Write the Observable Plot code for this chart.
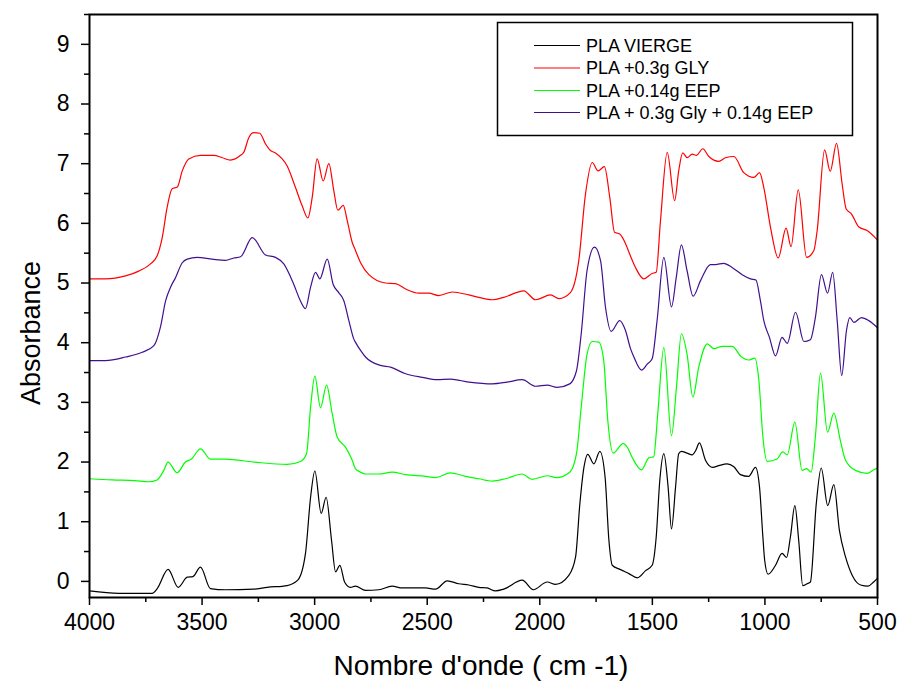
<!DOCTYPE html>
<html><head><meta charset="utf-8">
<script src="https://cdn.jsdelivr.net/npm/d3@7"></script>
<script src="https://cdn.jsdelivr.net/npm/@observablehq/plot@0.6"></script>
<style>body{margin:0;background:#fff} #chart svg{display:block}</style>
</head><body><div id="chart"></div>
<script>
const seriesNames = ["PLA VIERGE", "PLA +0.3g GLY", "PLA +0.14g EEP", "PLA + 0.3g Gly + 0.14g EEP"];
const seriesColors = ["#000000", "#ff0000", "#00ff00", "#40108f"];

const viergeWn = [4000,3870,3722,3699,3651,3606,3566,3541,3507,3463,3396,3270,3211,3122,3075,3041,3018,2999,2971,2949,2925,2907,2888,2867,2841,2819,2774,2715,2656,2611,2552,2508,2463,2411,2360,2315,2271,2234,2197,2160,2078,2029,1967,1930,1871,1841,1822,1804,1787,1760,1733,1710,1693,1678,1649,1625,1604,1567,1530,1501,1483,1467,1449,1430,1415,1397,1383,1371,1346,1323,1308,1291,1264,1232,1205,1168,1138,1109,1072,1042,1024,1009,1001,986,953,924,904,887,867,850,832,813,798,772,750,721,694,669,642,612,575,542,517,500];
const viergeAbs = [-0.16,-0.20,-0.20,-0.12,0.20,-0.10,0.07,0.08,0.24,-0.12,-0.14,-0.13,-0.10,-0.07,0.02,0.46,1.41,1.85,1.14,1.41,0.69,0.16,0.27,-0.01,-0.10,-0.08,-0.15,-0.14,-0.08,-0.11,-0.11,-0.11,-0.13,0.01,-0.04,-0.06,-0.10,-0.11,-0.16,-0.13,0.02,-0.14,-0.01,-0.05,0.10,0.41,1.30,1.91,2.13,1.97,2.18,1.75,0.69,0.27,0.21,0.17,0.13,0.06,0.18,0.27,0.74,1.69,2.14,1.58,0.88,1.58,2.14,2.18,2.15,2.12,2.19,2.32,2.03,1.91,1.94,1.97,1.92,1.79,1.76,1.91,1.58,0.74,0.35,0.12,0.27,0.47,0.40,0.74,1.27,0.69,-0.07,-0.04,-0.01,1.30,1.90,1.27,1.62,0.85,0.41,0.10,-0.06,-0.08,-0.01,0.05];

const glyWn = [4000,3929,3840,3781,3729,3699,3677,3655,3633,3610,3588,3559,3507,3448,3410,3374,3329,3315,3292,3270,3244,3218,3196,3174,3122,3085,3055,3030,3011,2989,2962,2937,2915,2897,2873,2855,2833,2819,2796,2759,2685,2641,2596,2537,2493,2449,2389,2315,2271,2210,2160,2071,2019,1952,1915,1864,1827,1797,1767,1741,1713,1689,1668,1645,1619,1597,1575,1538,1501,1483,1464,1434,1401,1383,1365,1345,1323,1304,1276,1249,1205,1175,1138,1094,1049,1024,1005,975,941,906,884,852,815,783,768,735,710,682,657,639,616,583,546,500];
const glyAbs = [5.07,5.07,5.12,5.20,5.32,5.46,5.76,6.27,6.58,6.61,6.88,7.08,7.14,7.14,7.10,7.06,7.14,7.19,7.44,7.52,7.51,7.33,7.22,7.18,6.96,6.60,6.29,6.09,6.43,7.08,6.71,7.00,6.55,6.22,6.30,6.04,5.68,5.55,5.34,5.14,5.00,4.99,4.90,4.83,4.83,4.79,4.85,4.80,4.76,4.72,4.76,4.87,4.72,4.80,4.74,4.84,5.37,6.49,7.02,6.88,6.95,6.43,5.85,5.82,5.66,5.45,5.26,5.07,5.16,5.18,6.04,7.19,6.38,6.88,7.18,7.10,7.16,7.14,7.25,7.12,7.04,7.10,7.12,6.85,6.77,6.85,6.60,5.93,5.42,5.92,5.61,6.56,5.43,5.54,5.88,7.23,6.87,7.34,6.66,6.24,6.16,5.94,5.88,5.72];

const eepWn = [4000,3900,3800,3737,3700,3670,3651,3611,3574,3547,3507,3463,3396,3270,3122,3063,3036,3018,2999,2974,2947,2922,2900,2863,2833,2819,2796,2774,2715,2656,2596,2508,2463,2397,2330,2271,2210,2152,2078,2034,1967,1926,1867,1837,1816,1790,1767,1738,1716,1698,1674,1630,1610,1590,1548,1516,1494,1476,1449,1415,1393,1371,1346,1320,1294,1256,1227,1190,1146,1104,1072,1045,1027,1009,990,946,921,901,867,835,815,795,776,753,722,694,665,642,598,546,516,500];
const eepAbs = [1.72,1.70,1.69,1.67,1.70,1.86,2.00,1.82,2.00,2.05,2.22,2.05,2.05,2.00,1.96,2.01,2.14,2.92,3.44,2.91,3.29,2.81,2.42,2.25,2.03,1.89,1.83,1.80,1.80,1.83,1.79,1.76,1.74,1.82,1.76,1.72,1.68,1.72,1.80,1.71,1.77,1.74,1.83,2.14,2.92,3.81,4.02,4.01,3.70,2.70,2.15,2.31,2.24,2.08,1.87,2.07,2.09,2.81,3.92,2.44,3.25,4.15,3.81,3.09,3.59,3.98,3.90,3.94,3.94,3.76,3.71,3.74,3.37,2.42,2.01,2.05,2.17,2.12,2.67,1.86,1.89,1.83,2.42,3.49,2.50,2.82,2.36,2.03,1.86,1.81,1.87,1.90];

const mixWn = [4000,3929,3840,3766,3714,3685,3662,3640,3618,3588,3566,3522,3455,3396,3359,3329,3277,3218,3174,3137,3093,3063,3041,3018,2996,2977,2944,2918,2893,2870,2848,2826,2819,2796,2774,2708,2663,2596,2522,2456,2397,2315,2210,2145,2078,2019,1967,1923,1867,1837,1816,1790,1757,1730,1708,1683,1645,1619,1597,1582,1548,1523,1501,1479,1449,1415,1394,1371,1346,1319,1286,1242,1220,1183,1146,1101,1064,1040,1020,1005,980,953,924,901,864,827,798,776,749,722,699,679,659,638,623,605,571,539,500];
const mixAbs = [3.70,3.70,3.76,3.84,3.95,4.26,4.70,4.93,5.09,5.34,5.40,5.43,5.40,5.38,5.42,5.44,5.76,5.47,5.43,5.32,4.98,4.70,4.57,4.93,5.18,5.07,5.40,4.98,4.84,4.70,4.37,4.06,4.01,3.87,3.76,3.62,3.59,3.48,3.42,3.38,3.39,3.34,3.31,3.34,3.38,3.27,3.29,3.25,3.31,3.53,4.15,5.21,5.60,5.37,4.59,4.19,4.37,4.20,3.90,3.76,3.54,3.64,3.73,4.37,5.43,4.60,5.09,5.64,5.21,4.78,5.04,5.31,5.31,5.33,5.26,5.14,5.07,5.05,4.70,4.37,4.09,3.78,4.09,3.99,4.51,4.02,4.05,4.42,5.14,4.83,5.18,4.37,3.45,4.20,4.42,4.34,4.42,4.37,4.25];

const xMajorTicks = [4000, 3500, 3000, 2500, 2000, 1500, 1000, 500];
const xMinorTicks = [3750, 3250, 2750, 2250, 1750, 1250, 750];
const yMajorTicks = [0, 1, 2, 3, 4, 5, 6, 7, 8, 9];
const yMinorTicks = [0.5, 1.5, 2.5, 3.5, 4.5, 5.5, 6.5, 7.5, 8.5, 9.5];
const xTitle = "Nombre d'onde ( cm -1)";
const yTitle = "Absorbance";

const seriesWn = [viergeWn, glyWn, eepWn, mixWn];
const seriesAbs = [viergeAbs, glyAbs, eepAbs, mixAbs];
const rows = [];
seriesNames.forEach((name, i) => {
  seriesWn[i].forEach((w, j) => rows.push({series: name, wn: w, abs: seriesAbs[i][j]}));
});

const font = "'Liberation Sans', Arial, sans-serif";
const plot = Plot.plot({
  width: 901, height: 686,
  marginLeft: 89, marginRight: 24, marginTop: 14, marginBottom: 89,
  style: {fontFamily: font, fontSize: "23px", color: "#000", background: "#fff", overflow: "visible"},
  x: {domain: [4000, 500], label: null},
  y: {domain: [-0.27, 9.5], label: null},
  color: {domain: seriesNames, range: seriesColors},
  marks: [
    Plot.axisX(xMinorTicks, {tickSize: 5, tickFormat: () => "", label: null, strokeWidth: 1.5}),
    Plot.axisX(xMajorTicks, {tickSize: 8, tickPadding: 8, tickFormat: d => String(d), label: null, strokeWidth: 1.5}),
    Plot.axisY(yMinorTicks, {tickSize: 5, tickFormat: () => "", label: null, strokeWidth: 1.5}),
    Plot.axisY(yMajorTicks, {tickSize: 8, tickPadding: 12, tickFormat: d => String(d), label: null, strokeWidth: 1.5}),
    Plot.line(rows, {x: "wn", y: "abs", z: "series", stroke: "series", strokeWidth: 1.2, curve: "monotone-x"}),
    Plot.frame({stroke: "#000", strokeWidth: 2})
  ]
});
document.getElementById("chart").appendChild(plot);

const svg = d3.select(plot);
svg.append("text")
  .attr("transform", "translate(31,333) rotate(-90)")
  .attr("text-anchor", "middle").attr("dominant-baseline", "central")
  .attr("font-family", font).attr("font-size", 27).attr("fill", "#000")
  .text(yTitle);
svg.append("text")
  .attr("x", 481).attr("y", 665)
  .attr("text-anchor", "middle").attr("dominant-baseline", "central")
  .attr("font-family", font).attr("font-size", 28).attr("fill", "#000")
  .text(xTitle);

const lg = svg.append("g");
lg.append("rect").attr("x", 497.5).attr("y", 22.5).attr("width", 355).attr("height", 113)
  .attr("fill", "#fff").attr("stroke", "#000").attr("stroke-width", 1.5);
const rowY = [45.5, 68, 90.5, 112.5];
seriesNames.forEach((name, i) => {
  lg.append("line").attr("x1", 534).attr("x2", 580).attr("y1", rowY[i]).attr("y2", rowY[i])
    .attr("stroke", seriesColors[i]).attr("stroke-width", 1.2);
  lg.append("text").attr("x", 586).attr("y", rowY[i]).attr("dominant-baseline", "central")
    .attr("text-anchor", "start")
    .attr("font-family", font).attr("font-size", 18).attr("fill", "#000").text(name);
});
</script>
</body></html>
